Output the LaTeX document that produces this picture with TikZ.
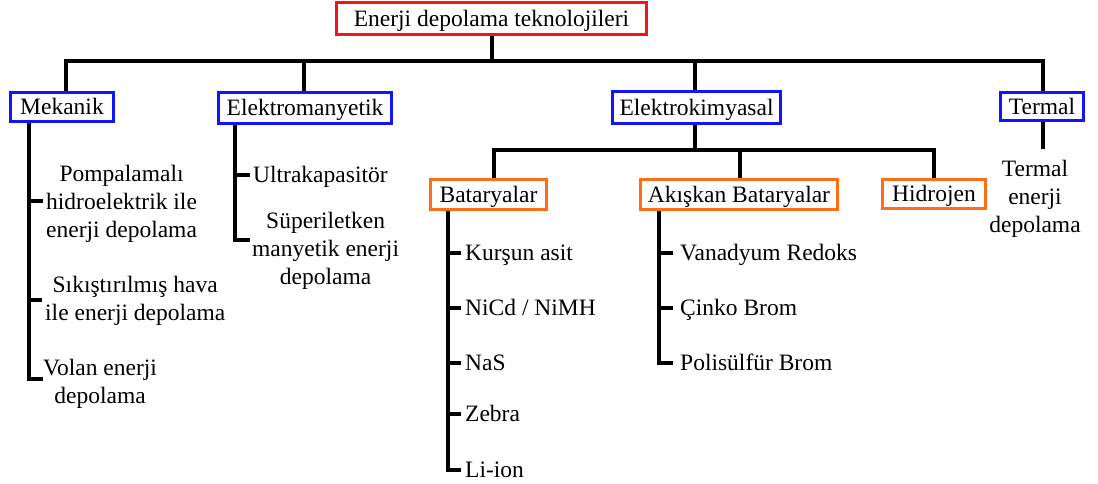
\documentclass[tikz,border=0pt]{standalone}
\usepackage{fontspec}
\setmainfont{Liberation Serif}
\definecolor{cred}{RGB}{240,20,30}
\definecolor{cblue}{RGB}{20,20,250}
\definecolor{corange}{RGB}{255,110,20}
\begin{document}
\begin{tikzpicture}[x=1pt,y=-1pt,
  every node/.style={font=\fontsize{23.5}{28}\selectfont},
  box/.style={draw, line width=2.8pt, fill=white, inner sep=0pt, text height=15.5pt, text depth=0pt},
  lvl0/.style={box, draw=cred},
  lvl1/.style={box, draw=cblue},
  lvl2/.style={box, draw=corange},
  leaf/.style={inner sep=0pt, text height=15.5pt, text depth=0pt},
  leafm/.style={inner sep=0pt, text depth=0pt, align=center},
  conn/.style={line width=3.8pt, line join=miter}]
\useasboundingbox (0,0) rectangle (1098,484);
% boxes
\node[lvl0, minimum width=310, minimum height=32] (root) at (491.5,18.5) {Enerji depolama teknolojileri};
\node[lvl1, minimum width=103, minimum height=29] (mek) at (62,107) {Mekanik};
\node[lvl1, minimum width=173, minimum height=31] (em) at (305,108) {Elektromanyetik};
\node[lvl1, minimum width=168, minimum height=32] (ek) at (696.5,107.5) {Elektrokimyasal};
\node[lvl1, minimum width=83, minimum height=28] (ter) at (1042,106.5) {Termal};
\node[lvl2, minimum width=116, minimum height=30] (bat) at (488.5,194.5) {Bataryalar};
\node[lvl2, minimum width=197, minimum height=30] (ak) at (739,194.5) {Akışkan Bataryalar};
\node[lvl2, minimum width=103, minimum height=29] (hid) at (934,194) {Hidrojen};
% leaves
\node[leafm, anchor=west] (p1) at (46,201) {Pompalamalı\\hidroelektrik ile\\enerji depolama};
\node[leafm, anchor=west] (p2) at (45,298) {Sıkıştırılmış hava\\ile enerji depolama};
\node[leafm, anchor=west] (p3) at (43,381) {Volan enerji\\depolama};
\node[leaf, anchor=west] (u1) at (253,175) {Ultrakapasitör};
\node[leafm, anchor=west] (u2) at (252,248) {Süperiletken\\manyetik enerji\\depolama};
\node[leafm] (tl) at (1035,196) {Termal\\enerji\\depolama};
\node[leaf, anchor=west] (k1) at (465,253) {Kurşun asit};
\node[leaf, anchor=west] (k2) at (465,308) {NiCd / NiMH};
\node[leaf, anchor=west] (k3) at (465,363) {NaS};
\node[leaf, anchor=west] (k4) at (465,414) {Zebra};
\node[leaf, anchor=west] (k5) at (465,470) {Li-ion};
\node[leaf, anchor=west] (a1) at (680,253) {Vanadyum Redoks};
\node[leaf, anchor=west] (a2) at (680,308) {Çinko Brom};
\node[leaf, anchor=west] (a3) at (680,363) {Polisülfür Brom};
% junction coordinates
\coordinate (j0) at (492,61);
\coordinate (jm) at (66,61);
\coordinate (je) at (304,61);
\coordinate (jk) at (695,61);
\coordinate (jt) at (1043,61);
\coordinate (kk) at (695,150);
\coordinate (kb) at (494,150);
\coordinate (ka) at (740,150);
\coordinate (kh) at (934,150);
\coordinate (mv) at (29,0);
\coordinate (ev) at (235,0);
\coordinate (et) at (250,240);
\coordinate (bv) at (448,0);
\coordinate (av) at (659,0);
\coordinate (tt) at (1043,149);
\coordinate (m2) at (42,300);
\coordinate (m3) at (43,379);
% connectors
\draw[conn] (root.south -| j0) -- (j0);
\draw[conn] (mek.north -| jm) -- (jm) -- (jt) -- (ter.north -| jt);
\draw[conn] (je) -- (em.north -| je);
\draw[conn] (jk) -- (ek.north -| jk);
\draw[conn] (ek.south -| kk) -- (kk);
\draw[conn] (bat.north -| kb) -- (kb) -- (kh) -- (hid.north -| kh);
\draw[conn] (ka) -- (ak.north -| ka);
\draw[conn] (ter.south -| tt) -- (tt);
% Mekanik list
\draw[conn] (mek.south -| mv) -- (m3 -| mv) -- (m3);
\draw[conn] (p1.west -| mv) -- ([xshift=-3pt]p1.west);
\draw[conn] (m2 -| mv) -- (m2);
% Elektromanyetik list
\draw[conn] (em.south -| ev) -- (et -| ev) -- (et);
\draw[conn] (u1.west -| ev) -- ([xshift=-3pt]u1.west);
% Bataryalar list
\draw[conn] (bat.south -| bv) -- (k5.west -| bv) -- ([xshift=-4pt]k5.west);
\foreach \n in {k1,k2,k3,k4} \draw[conn] (\n.west -| bv) -- ([xshift=-4pt]\n.west);
% Akiskan list
\draw[conn] (ak.south -| av) -- (a3.west -| av) -- ([xshift=-7pt]a3.west);
\foreach \n in {a1,a2} \draw[conn] (\n.west -| av) -- ([xshift=-7pt]\n.west);
\end{tikzpicture}
\end{document}
